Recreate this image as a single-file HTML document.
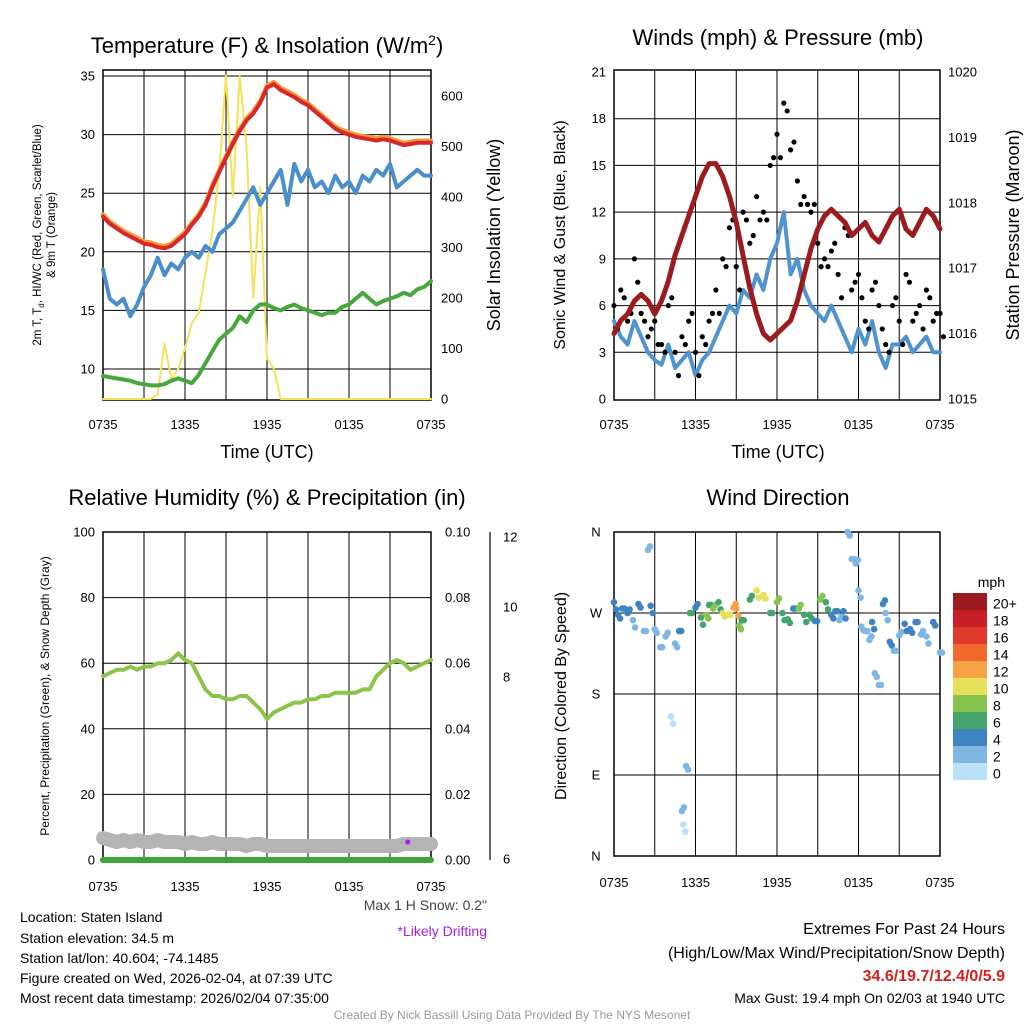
<!DOCTYPE html>
<html><head><meta charset="utf-8"><style>
body{margin:0;background:#fff}
svg{font-family:"Liberation Sans",Arial,sans-serif}
</style></head><body>
<svg id="c" width="1024" height="1024" viewBox="0 0 1024 1024">
<g id="static" font-size="13" fill="#000">
<text x="267" y="53" font-size="22" text-anchor="middle">Temperature (F) &amp; Insolation (W/m<tspan dy="-8" font-size="14">2</tspan><tspan dy="8">)</tspan></text>
<text x="778" y="45" font-size="22" text-anchor="middle">Winds (mph) &amp; Pressure (mb)</text>
<text x="267" y="505" font-size="22" text-anchor="middle">Relative Humidity (%) &amp; Precipitation (in)</text>
<text x="778" y="505" font-size="22" text-anchor="middle">Wind Direction</text>
<text x="267" y="458" font-size="18" text-anchor="middle">Time (UTC)</text>
<text x="778" y="458" font-size="18" text-anchor="middle">Time (UTC)</text>
<text transform="translate(41,235) rotate(-90)" font-size="11.5" text-anchor="middle">2m T, T<tspan font-size="8" dy="3">d</tspan><tspan dy="-3">, HI/WC (Red, Green, Scarlet/Blue)</tspan></text>
<text transform="translate(55,235) rotate(-90)" font-size="11.5" text-anchor="middle">&amp; 9m T (Orange)</text>
<text transform="translate(500,235) rotate(-90)" font-size="18" text-anchor="middle">Solar Insolation (Yellow)</text>
<text transform="translate(565,235) rotate(-90)" font-size="16" text-anchor="middle">Sonic Wind &amp; Gust (Blue, Black)</text>
<text transform="translate(1019,235) rotate(-90)" font-size="18" text-anchor="middle">Station Pressure (Maroon)</text>
<text transform="translate(49,696) rotate(-90)" font-size="12" text-anchor="middle">Percent, Precipitation (Green), &amp; Snow Depth (Gray)</text>
<text transform="translate(566,696) rotate(-90)" font-size="16" text-anchor="middle">Direction (Colored By Speed)</text>
<g font-size="14">
<text x="20" y="922">Location: Staten Island</text>
<text x="20" y="943">Station elevation: 34.5 m</text>
<text x="20" y="963">Station lat/lon: 40.604; -74.1485</text>
<text x="20" y="983">Figure created on Wed, 2026-02-04, at 07:39 UTC</text>
<text x="20" y="1003">Most recent data timestamp: 2026/02/04 07:35:00</text>
<text x="487" y="910" text-anchor="end" fill="#444">Max 1 H Snow: 0.2"</text>
<text x="487" y="936" text-anchor="end" fill="#a020f0">*Likely Drifting</text>
<text x="1005" y="1003" text-anchor="end">Max Gust: 19.4 mph On 02/03 at 1940 UTC</text>
</g>
<text x="1005" y="934" font-size="16" text-anchor="end">Extremes For Past 24 Hours</text>
<text x="1005" y="958" font-size="16" text-anchor="end">(High/Low/Max Wind/Precipitation/Snow Depth)</text>
<text x="1005" y="981" font-size="16" font-weight="bold" fill="#d42020" text-anchor="end">34.6/19.7/12.4/0/5.9</text>
<text x="512" y="1019" font-size="12" fill="#999" text-anchor="middle">Created By Nick Bassill Using Data Provided By The NYS Mesonet</text>
<text x="1005" y="587" font-size="14" text-anchor="end">mph</text>
</g>
<g id="dyn"></g>
</svg>
<script>
// ---- data (index = hours since 0735 UTC) ----
var timeLabels=["0735","1335","1935","0135","0735"];
var tempTicks=[10,15,20,25,30,35];
var solarTicks=[0,100,200,300,400,500,600];
var windTicks=[0,3,6,9,12,15,18,21];
var pressTicks=[1015,1016,1017,1018,1019,1020];
var rhTicks=[0,20,40,60,80,100];
var precipTicks=["0.00","0.02","0.04","0.06","0.08","0.10"];
var snowTickLabels=["12","10","8","6"];
var snowTickVals=[12,10,8,6];
var dirLabels=["N","E","S","W","N"];
var speedBinLabels=["20+","18","16","14","12","10","8","6","4","2","0"];
var speedColors=["#9b1b1e","#c62026","#e0382b","#ef6a2c","#f7a345","#e6e05a","#86c44f","#45a46b","#3f84c0","#7fb7e2","#b9e1f7"];
var tempRed=[23,22.4,22,21.6,21.3,21,20.7,20.6,20.4,20.3,20.5,21,21.5,22.3,23,24,25.5,26.8,28,29.2,30.3,31.2,31.8,32.7,34,34.3,33.8,33.5,33.2,32.8,32.5,32,31.5,31,30.5,30.2,30,29.8,29.7,29.6,29.5,29.6,29.5,29.3,29.1,29.2,29.3,29.3,29.3];
var tempBlue=[18.5,16,15.5,16,14.5,15.5,17,18,19.5,18,19,18.5,19.5,20,19.5,20.5,20,21.5,22,22.5,23.5,24.5,25.5,24,25,26,27,24,27.5,26,27,25.5,26,25,26.5,25.5,26,25,26.5,26,27,26.5,27.5,25.5,26,26.5,27,26.5,26.5];
var tempGreen=[9.4,9.3,9.2,9.1,9,8.8,8.7,8.6,8.6,8.7,9,9.2,9,8.8,9.5,10.5,11.5,12.5,13,13.5,14.5,14,15,15.5,15.5,15.2,15,15.3,15.5,15.2,15,14.8,14.6,14.8,14.8,15.3,15.5,16,16.5,16,15.5,15.8,16,16.2,16.5,16.3,16.8,17,17.5];
var solar=[0,0,0,0,0,0,0,0,10,110,40,60,100,150,170,250,330,450,640,400,640,500,200,420,80,60,0,0,0,0,0,0,0,0,0,0,0,0,0,0,0,0,0,0,0,0,0,0,0];
var windSpeed=[5,4,3.5,5,4,3,2.5,2.2,3.5,2,2.5,3,1.5,2.5,3,4,5,6,5.5,7,6.5,8,7,9,10,12,8,9,7,6,5.5,5,6,5,4,3,4.5,3.5,5,3,2,3.5,3.5,4,3,3.5,4,3,3];
var windGust=[6,7,5,9,5.5,4,5,3.5,6,3,4,5,3,4,5,7,9,11,8.5,12,10,13,12,15,17,19,16,14,13,12,10,9,9.5,8,11,7,8,5,7,6,3.5,6,5,8,5,6,7,5,5.5];
var pressure=[1016.0,1016.2,1016.3,1016.5,1016.6,1016.5,1016.3,1016.5,1016.8,1017.2,1017.5,1017.8,1018.1,1018.4,1018.6,1018.6,1018.4,1018.1,1017.7,1017.2,1016.7,1016.3,1016.0,1015.9,1016.0,1016.1,1016.2,1016.5,1016.9,1017.3,1017.6,1017.8,1017.9,1017.8,1017.7,1017.5,1017.6,1017.7,1017.5,1017.4,1017.6,1017.8,1017.9,1017.6,1017.5,1017.7,1017.9,1017.8,1017.6];
var rh=[56,57,58,58,59,58,59,59,60,60,61,63,61,60,56,52,50,50,49,49,50,50,48,46,43,45,46,47,48,48,49,49,50,50,51,51,51,51,52,52,56,58,60,61,60,58,59,60,61];
var snowDepth=[6.2,6.1,6.0,6.1,6.0,6.1,6.0,6.0,6.1,6.0,6.0,6.0,5.9,6.0,5.9,5.9,6.0,5.9,5.9,5.9,5.9,5.8,5.9,5.9,5.8,5.8,5.8,5.8,5.8,5.8,5.8,5.8,5.8,5.8,5.8,5.8,5.8,5.8,5.8,5.8,5.8,5.8,5.8,5.8,5.9,5.9,5.9,5.9,5.9];
var dirDeg=[282,268,275,270,262,280,250,340,278,252,232,244,155,236,250,50,35,100,270,276,265,268,279,275,282,270,268,276,275,256,262,285,295,290,270,282,270,263,275,275,268,268,261,285,282,268,272,262,272,360,330,325,295,255,250,240,260,203,190,280,270,238,228,245,258,252,260,246,244,260,226];
var dirSpeed=[3,4,3,4,2,4,2,1,4,2,2,2,0,2,3,1,0,2,6,4,6,7,5,8,6,9,10,11,12,7,6,5,10,9,6,7,5,6,4,7,5,6,3,7,6,4,3,2,4,1,2,2,2,1,2,1,4,2,1,4,2,3,2,2,4,3,3,2,2,3,2];
var dirHour=[0,0.3,0.6,1,1.4,1.8,2.2,2.5,2.7,3,3.4,3.8,4.2,4.5,4.8,5,5.1,5.3,5.6,6,6.4,6.8,7,7.3,7.7,8,8.4,8.8,9,9.2,9.4,10,10.5,11,11.5,12,12.4,12.8,13.2,13.6,14,14.4,14.8,15.2,15.6,16,16.3,16.6,16.9,17.2,17.5,17.8,18,18.2,18.5,18.8,19,19.2,19.5,19.8,20,20.3,20.6,21,21.4,21.8,22.2,22.6,23,23.5,24];

// ---- drawing ----
var NS="http://www.w3.org/2000/svg",G=document.getElementById('dyn');
function mk(t,a){var e=document.createElementNS(NS,t);for(var k in a)e.setAttribute(k,a[k]);G.appendChild(e);return e;}
function lin(d0,d1,r0,r1){return function(v){return r0+(v-d0)*(r1-r0)/(d1-d0);};}
var P=[{x0:103,x1:431,y0:70,y1:400},{x0:614,x1:940,y0:70,y1:400},{x0:103,x1:431,y0:532,y1:860},{x0:614,x1:940,y0:532,y1:856}];
function frame(p,id){
  var r=mk('rect',{x:p.x0,y:p.y0,width:p.x1-p.x0,height:p.y1-p.y0,fill:'none',stroke:'#000','stroke-width':1.5});
  
  
  var X=lin(0,24,p.x0,p.x1);
  for(var h=3;h<24;h+=3){var l=mk('line',{x1:X(h),x2:X(h),y1:p.y0,y2:p.y1,stroke:'#000','stroke-width':1});
    
    }
  timeLabels.forEach(function(s,i){var t=mk('text',{x:X(i*6),y:p.y1+(p.y1>800?31:29),'font-size':13,'text-anchor':'middle'});t.textContent=s;
    
    });
  return X;
}
function hline(p,y,id){var l=mk('line',{x1:p.x0,x2:p.x1,y1:y,y2:y,stroke:'#000','stroke-width':1});
  
  }
function label(x,y,s,anchor,id,size){var t=mk('text',{x:x,y:y+4.5,'font-size':size||13,'text-anchor':anchor});t.textContent=s;
  
  }
function path(vals,X,Y,col,w,id){var d='';vals.forEach(function(v,i){d+=(i?'L':'M')+X(i/2).toFixed(1)+','+Y(v).toFixed(1);});
  var e=mk('path',{d:d,fill:'none',stroke:col,'stroke-width':w,'stroke-linejoin':'round','stroke-linecap':'round'});
  
  return e;}

// Panel 1
var p=P[0],X1=frame(p,'temp'),YT=lin(35,10,76,369),YS=lin(0,600,399,96);
tempTicks.forEach(function(v){hline(p,YT(v),'temp');label(p.x0-8,YT(v),v,'end','temp-y-tick-label');});
solarTicks.forEach(function(v){label(p.x1+10,YS(v),v,'start','solar-tick-label');});
path(solar,X1,function(v){return Math.max(YS(v),72);},'#f5e15a',2,'solar-insolation-line');
path(tempGreen,X1,YT,'#46a83c',4,'dewpoint-line');
path(tempBlue,X1,YT,'#4a8fcb',4,'wind-chill-line');
path(tempRed.map(function(v){return v+0.2;}),X1,YT,'#f39a35',4,'9m-temperature-line');
path(tempRed,X1,YT,'#d8262a',4,'2m-temperature-line');

// Panel 2
p=P[1];var X2=frame(p,'wind'),YW=lin(0,21,399,72),YP=lin(1015,1020,399,72);
windTicks.forEach(function(v){if(v>0&&v<21)hline(p,YW(v),'wind');label(p.x0-8,YW(v),v,'end','wind-y-tick-label');});
pressTicks.forEach(function(v){label(p.x1+8,YP(v),v,'start','pressure-tick-label');});
path(windSpeed,X2,YW,'#4f93cf',4,'sonic-wind-line');
windGust.forEach(function(v,i){var c=mk('circle',{cx:X2(i/2),cy:YW(v),r:2.6,fill:'#000'});
  
  
  var c2=mk('circle',{cx:X2(i/2+0.25),cy:YW(Math.max(0,v-1.5+(i%3))),r:2.6,fill:'#000'});
  
  });
path(pressure,X2,YP,'#9b1b1e',5,'pressure-line');

// Panel 3
p=P[2];var X3=frame(p,'rh'),YR=lin(0,100,860,532);
rhTicks.forEach(function(v,i){if(v>0&&v<100)hline(p,YR(v),'rh');label(p.x0-8,YR(v),v,'end','rh-y-tick-label');label(p.x1+14,YR(v),precipTicks[i],'start','precip-tick-label');});
var snowAx=mk('line',{x1:490,x2:490,y1:532,y2:860,stroke:'#000','stroke-width':1.2});


var YSn=function(v){return v>=8?lin(8,12,677,537)(v):lin(6,8,859,677)(v);};
snowTickVals.forEach(function(v,i){label(503,YSn(v),snowTickLabels[i],'start','snow-tick-label');});
path(snowDepth,X3,function(v){return 838+(6.2-v)*20;},'#b4b4b4',14,'snow-depth-line');
path(rh,X3,YR,'#8cc449',4,'relative-humidity-line');
path(rh.map(function(){return 0;}),X3,YR,'#3fa53a',6,'precipitation-line');
var dr=mk('circle',{cx:X3(22.3),cy:842,r:2.5,fill:'#a020f0'});



// Panel 4
p=P[3];var X4=frame(p,'dir'),YD=lin(0,360,856,532);
dirLabels.forEach(function(s,i){var y=YD(i*90);if(i>0&&i<4)hline(p,y,'dir');label(p.x0-18,y,s,'middle','direction-tick-label');});
dirDeg.forEach(function(v,i){var s=dirSpeed[i],ci=10-Math.min(10,Math.round(s/2));
  var c=mk('circle',{cx:X4(dirHour[i]),cy:YD(v),r:3.3,fill:speedColors[ci]});
  
  
  var c2=mk('circle',{cx:X4(dirHour[i]+0.15),cy:YD(v-8+(i%4)*4),r:3.3,fill:speedColors[ci]});
  
  });
speedBinLabels.forEach(function(s,i){var y=593+i*17;
  var r=mk('rect',{x:953,y:y,width:34,height:17,fill:speedColors[i]});
  
  
  label(993,y+11,s,'start','colorbar-label',14);});
</script>
</body></html>
